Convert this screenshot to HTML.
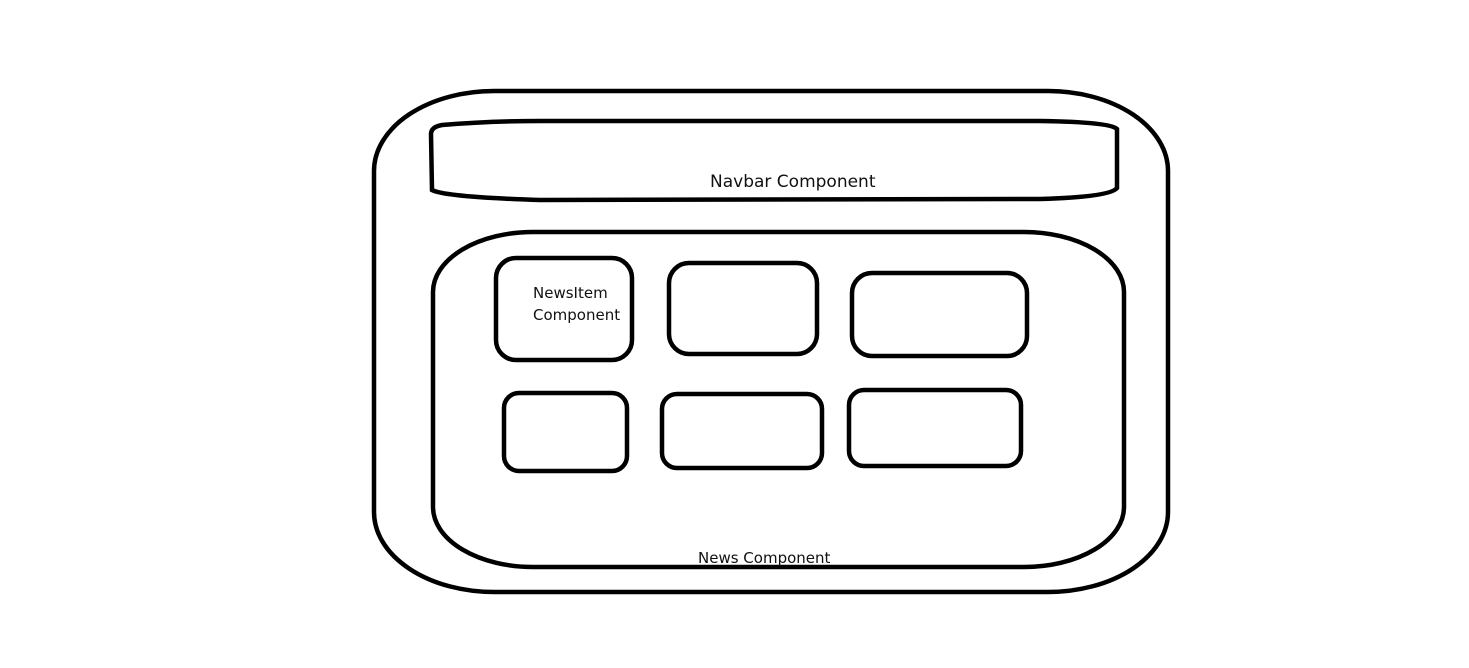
<!DOCTYPE html>
<html><head><style>
html,body{margin:0;padding:0;background:#fff;width:1469px;height:668px;overflow:hidden}
svg{display:block}
text{font-family:"DejaVu Sans","Liberation Sans",sans-serif;fill:#111}
</style></head><body>
<svg width="1469" height="668" viewBox="0 0 1469 668" fill="none" stroke="#000" stroke-width="4.5">
<rect x="374" y="91" width="794" height="501" rx="120" ry="80"/>
<path d="M431,134 Q431,127 442,125 Q490,121 540,121 L1040,121 Q1110,122 1117,129 L1117,188 Q1110,197 1040,199 L540,200 Q445,197 432,190 Z"/>
<rect x="433" y="232" width="691" height="335" rx="100" ry="60"/>
<rect x="496" y="258" width="136" height="102" rx="20" ry="20"/>
<rect x="669" y="263" width="148" height="91" rx="20" ry="20"/>
<rect x="852" y="273" width="175" height="83" rx="20" ry="20"/>
<rect x="504" y="393" width="123" height="78" rx="15" ry="15"/>
<rect x="662" y="394" width="160" height="74" rx="15" ry="15"/>
<rect x="849" y="390" width="172" height="76" rx="15" ry="15"/>
<g stroke="none">
<text x="710" y="187" font-size="17">Navbar Component</text>
<text x="533" y="298" font-size="15">NewsItem</text>
<text x="533" y="320" font-size="15">Component</text>
<text x="698" y="563" font-size="15">News Component</text>
</g>
</svg>
</body></html>
